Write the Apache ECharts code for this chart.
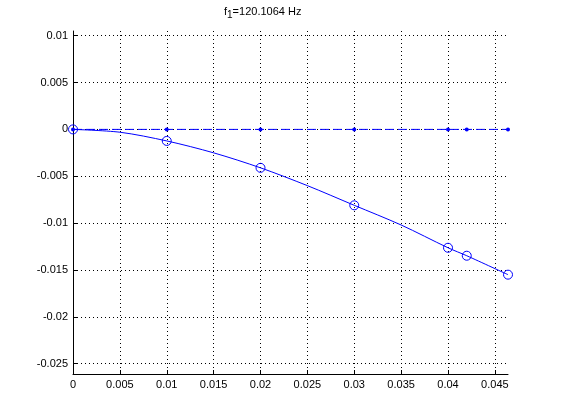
<!DOCTYPE html>
<html>
<head>
<meta charset="utf-8">
<script src="https://cdn.jsdelivr.net/npm/echarts@6/dist/echarts.min.js"></script>
<style>html,body{margin:0;padding:0;background:#fff}#c{width:561px;height:420px}</style>
</head>
<body>
<div id="c"></div>
<script>
// Data
const nodeX = [0, 0.01, 0.02, 0.03, 0.04, 0.042, 0.0464];
const nodeY = [0, -0.00123, -0.0041, -0.0081, -0.01263, -0.01348, -0.0155];
const zeroY = [0, 0, 0, 0, 0, 0, 0];
const curveX = [0, 0.005, 0.01, 0.015, 0.02, 0.025, 0.03, 0.035, 0.04, 0.042, 0.0464];
const curveY = [0, -0.0003, -0.00123, -0.0025, -0.0041, -0.006, -0.0081, -0.0102, -0.01263, -0.01348, -0.0155];
const xTicks = [0, 0.005, 0.01, 0.015, 0.02, 0.025, 0.03, 0.035, 0.04, 0.045];
const yTicks = [-0.025, -0.02, -0.015, -0.01, -0.005, 0, 0.005, 0.01];
const xRange = [0, 0.0464];
const yRange = [-0.0261, 0.0105];

const blue = '#0000ff';
const font = 'Liberation Sans, Arial, Helvetica, sans-serif';
const chart = echarts.init(document.getElementById('c'), null, {renderer: 'canvas'});
const axisCommon = {
  axisLine: {show: true, onZero: false, lineStyle: {color: '#000', width: 1}},
  axisTick: {show: true, inside: true, length: 4, lineStyle: {color: '#000'}},
  axisLabel: {color: '#000', fontFamily: font, fontSize: 11, margin: 5},
  splitLine: {show: true, lineStyle: {color: '#000', width: 1, type: [1, 3]}}
};
chart.setOption({
  animation: false,
  backgroundColor: '#fff',
  title: {
    text: '{a|f}{b|1}{a|=120.1064 Hz}',
    left: 224, top: 6, padding: 0,
    textStyle: {
      fontFamily: font, fontWeight: 'normal', color: '#000',
      rich: {
        a: {fontFamily: font, fontSize: 11, color: '#000', lineHeight: 14, verticalAlign: 'top'},
        b: {fontFamily: font, fontSize: 10, color: '#000', lineHeight: 10, padding: [6, 0, 0, 0], verticalAlign: 'bottom'}
      }
    }
  },
  grid: {left: 73, right: 53, top: 31, bottom: 46, containLabel: false},
  xAxis: Object.assign({}, axisCommon, {
    type: 'value', min: xRange[0], max: xRange[1],
    axisTick: Object.assign({}, axisCommon.axisTick, {customValues: xTicks}),
    axisLabel: Object.assign({}, axisCommon.axisLabel, {customValues: xTicks}),
  }),
  yAxis: Object.assign({}, axisCommon, {
    type: 'value', min: yRange[0], max: yRange[1],
    axisTick: Object.assign({}, axisCommon.axisTick, {customValues: yTicks}),
    axisLabel: Object.assign({}, axisCommon.axisLabel, {customValues: yTicks}),
  }),
  series: [
    {
      type: 'line', data: nodeX.map((x, i) => [x, zeroY[i]]),
      lineStyle: {color: blue, width: 1, type: [9, 4]},
      symbol: 'circle', symbolSize: 4, itemStyle: {color: blue}, z: 2
    },
    {
      type: 'line', data: curveX.map((x, i) => [x, curveY[i]]),
      lineStyle: {color: blue, width: 1}, symbol: 'none', smooth: 0.3, z: 3
    },
    {
      type: 'scatter', data: nodeX.map((x, i) => [x, nodeY[i]]),
      symbol: 'circle', symbolSize: 9,
      itemStyle: {color: 'rgba(0,0,0,0)', borderColor: blue, borderWidth: 1, opacity: 1}, z: 4
    }
  ]
});
</script>
</body>
</html>
